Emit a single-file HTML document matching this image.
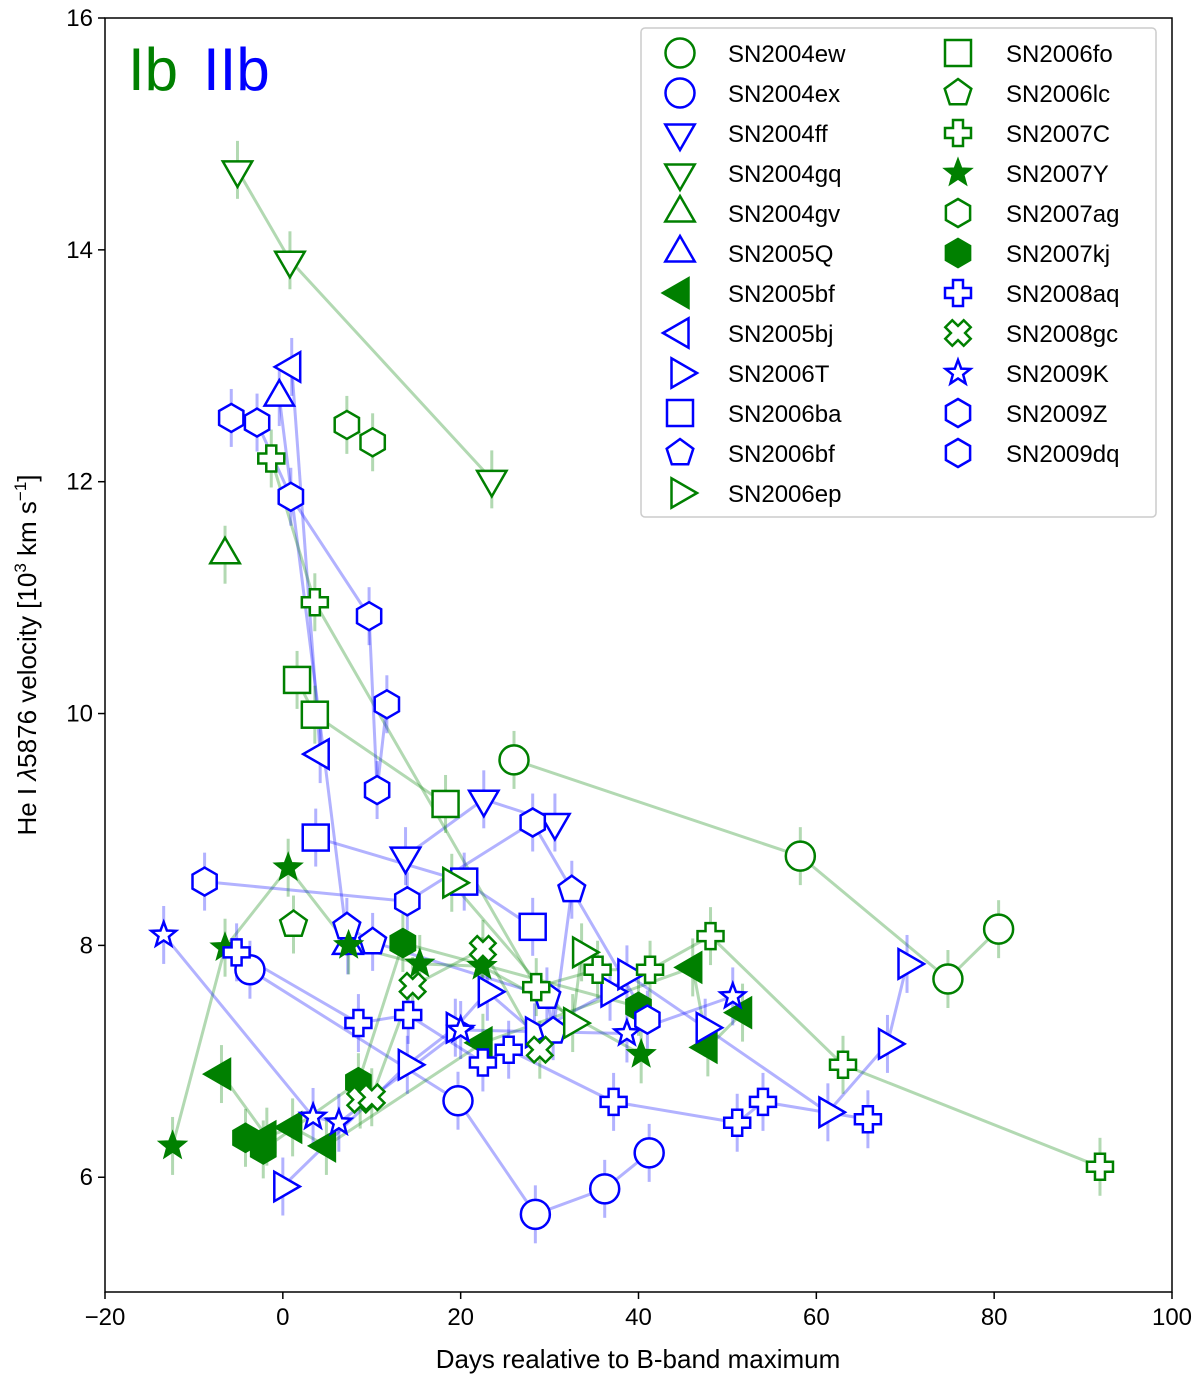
<!DOCTYPE html>
<html><head><meta charset="utf-8"><style>
body{margin:0;background:#fff}
svg{font-family:"Liberation Sans","DejaVu Sans",sans-serif}
</style></head><body>
<svg id="chart" width="1200" height="1379" viewBox="0 0 1200 1379">
<g id="plot"></g>
<g id="axes"></g>
<g id="legend"></g>
<text x="128" y="90" font-size="60" fill="#008000">Ib</text>
<text x="203" y="90" font-size="60" fill="#0000ff">IIb</text>
<text x="638" y="1368" font-size="26" text-anchor="middle">Days realative to B-band maximum</text>
<text transform="translate(36,655) rotate(-90)" font-size="26" text-anchor="middle">He I <tspan font-style="italic">λ</tspan>5876 velocity [10<tspan font-size="17" dy="-10">3</tspan><tspan dy="10"> km s</tspan><tspan font-size="17" dy="-10">−1</tspan><tspan dy="10">]</tspan></text>
</svg>
<script>
const names=["SN2004ew","SN2004ex","SN2004ff","SN2004gq","SN2004gv","SN2005Q","SN2005bf","SN2005bj","SN2006T","SN2006ba","SN2006bf","SN2006ep","SN2006fo","SN2006lc","SN2007C","SN2007Y","SN2007ag","SN2007kj","SN2008aq","SN2008gc","SN2009K","SN2009Z","SN2009dq"];
const types=["Ib","IIb","IIb","Ib","Ib","IIb","Ib","IIb","IIb","IIb","IIb","Ib","Ib","Ib","Ib","Ib","Ib","Ib","IIb","Ib","IIb","IIb","IIb"];
const markers=["circle","circle","tdown","tdown","tup","tup","tleftF","tleft","tright","square","pent","tright","square","pent","plus","starF","hex","hexF","plus","x","star","hex","hex"];
const days=[
[26,58.2,74.8,80.5],
[-3.7,19.7,28.4,36.2,41.2],
[13.8,22.6,30.6],
[-5.1,0.8,23.5],
[-6.5],
[-0.4,7.3],
[-6.9,-1.8,1.1,4.9,22.5,46.1,47.8,51.7],
[1.0,4.2],
[0,14,19.4,23,28.3,36.8,38.7,47.5,61.3,68,70.2],
[3.7,20.4,28.1],
[7.2,10.1,29.7,30.4,32.5],
[19,32.6,33.6],
[1.6,3.6,18.3],
[1.2],
[-1.3,3.6,28.5,35.4,41.3,48.1,63,91.9],
[-12.4,-6.5,0.6,7.4,15.4,22.4,40.3],
[7.2,10.1],
[-4.2,-2.2,8.5,13.5,40],
[-5.2,8.5,14.1,22.5,25.4,37.2,51.1,54,65.8],
[8.7,10,14.6,22.5,28.9],
[-13.4,3.4,6.3,20,38.7,50.6],
[-5.8,-2.9,0.9,9.7,10.6,11.7],
[-8.8,14,28.1,41]];
const vels=[
[9.6,8.77,7.71,8.14],
[7.79,6.66,5.68,5.90,6.21],
[8.77,9.26,9.06],
[14.69,13.91,12.02],
[11.37],
[12.73,8.0],
[6.89,6.35,6.43,6.27,7.16,7.81,7.12,7.42],
[12.99,9.65],
[5.92,6.97,7.29,7.6,7.25,7.6,7.75,7.29,6.56,7.15,7.84],
[8.93,8.55,8.16],
[8.16,8.03,7.56,7.26,8.48],
[8.54,7.33,7.94],
[10.29,9.99,9.22],
[8.18],
[12.2,10.96,7.64,7.79,7.79,8.08,6.97,6.09],
[6.27,7.98,8.67,8.0,7.84,7.82,7.06],
[12.49,12.34],
[6.34,6.24,6.82,8.02,7.47],
[7.94,7.33,7.4,6.99,7.1,6.65,6.47,6.65,6.5],
[6.67,6.69,7.65,7.97,7.1],
[8.09,6.52,6.47,7.27,7.24,7.56],
[12.55,12.51,11.87,10.84,9.34,10.08],
[8.55,8.38,9.06,7.36]];
const xTicks=[-20,0,20,40,60,80,100];
const yTicks=[6,8,10,12,14];
const NS="http://www.w3.org/2000/svg";
const X0=105,X1=1172,Y0=1292,Y1=18,xmin=-20,xmax=100,ymin=5.01,ymax=16;
const sx=v=>X0+(v-xmin)/(xmax-xmin)*(X1-X0);
const sy=v=>Y0-(v-ymin)/(ymax-ymin)*(Y0-Y1);
function mk(tag,attrs,parent){const e=document.createElementNS(NS,tag);for(const k in attrs)e.setAttribute(k,attrs[k]);parent.appendChild(e);return e;}
function poly(cx,cy,r,n,rot){let p=[];for(let i=0;i<n;i++){const a=rot+i*2*Math.PI/n;p.push((cx+r*Math.cos(a)).toFixed(1)+","+(cy+r*Math.sin(a)).toFixed(1));}return p.join(" ");}
function drawMarker(g,m,cx,cy,col){
  const filled=m.endsWith("F");const t=m.replace("F","");
  const st={fill:filled?col:"#fff",stroke:col,"stroke-width":2.5};
  let e;
  if(t==="circle")e=mk("circle",Object.assign({cx,cy,r:14.5},st),g);
  else if(t==="tdown")e=mk("polygon",Object.assign({points:poly(cx,cy,17,3,Math.PI/2)},st),g);
  else if(t==="tup")e=mk("polygon",Object.assign({points:poly(cx,cy,17,3,-Math.PI/2)},st),g);
  else if(t==="tleft")e=mk("polygon",Object.assign({points:poly(cx,cy,17,3,Math.PI)},st),g);
  else if(t==="tright")e=mk("polygon",Object.assign({points:poly(cx,cy,17,3,0)},st),g);
  else if(t==="square")e=mk("rect",Object.assign({x:cx-13,y:cy-13,width:26,height:26},st),g);
  else if(t==="pent")e=mk("polygon",Object.assign({points:poly(cx,cy,14,5,-Math.PI/2)},st),g);
  else if(t==="hex")e=mk("polygon",Object.assign({points:poly(cx,cy,14,6,-Math.PI/2)},st),g);
  else if(t==="plus"){const a=13,b=5;e=mk("polygon",Object.assign({points:`${cx-b},${cy-a} ${cx+b},${cy-a} ${cx+b},${cy-b} ${cx+a},${cy-b} ${cx+a},${cy+b} ${cx+b},${cy+b} ${cx+b},${cy+a} ${cx-b},${cy+a} ${cx-b},${cy+b} ${cx-a},${cy+b} ${cx-a},${cy-b} ${cx-b},${cy-b}`},st),g);}
  else if(t==="x"){const a=13,b=5;const pts=[[-b,-a],[b,-a],[b,-b],[a,-b],[a,b],[b,b],[b,a],[-b,a],[-b,b],[-a,b],[-a,-b],[-b,-b]].map(([x,y])=>{const c=Math.SQRT1_2;return (cx+(x-y)*c).toFixed(1)+","+(cy+(x+y)*c).toFixed(1);}).join(" ");e=mk("polygon",Object.assign({points:pts},st),g);}
  else if(t==="star"){let p=[];for(let i=0;i<10;i++){const r=i%2?5.5:13;const a=-Math.PI/2+i*Math.PI/5;p.push((cx+r*Math.cos(a)).toFixed(1)+","+(cy+r*Math.sin(a)).toFixed(1));}e=mk("polygon",Object.assign({points:p.join(" ")},st),g);}
  return e;
}
const plot=document.getElementById("plot");
const colOf=t=>t==="Ib"?"#008000":"#0000ff";
const lineLayer=mk("g",{},plot),errLayer=mk("g",{},plot),markLayer=mk("g",{},plot);
names.forEach((n,i)=>{
  const col=colOf(types[i]);
  const idx=days[i].map((d,j)=>j).sort((a,b)=>days[i][a]-days[i][b]);
  if(idx.length>1){
    const pl=mk("polyline",{points:idx.map(j=>sx(days[i][j])+","+sy(vels[i][j])).join(" "),fill:"none",stroke:col,"stroke-opacity":0.3,"stroke-width":3},lineLayer);
    
    
  }
  days[i].forEach((d,j)=>{
    const x=sx(d),y=sy(vels[i][j]);
    const eb=mk("line",{x1:x,x2:x,y1:sy(vels[i][j]+0.25),y2:sy(vels[i][j]-0.25),stroke:col,"stroke-opacity":0.3,"stroke-width":3},errLayer);
    
    
    const m=drawMarker(markLayer,markers[i],x,y,col);
    
    
  });
});
const axes=document.getElementById("axes");
const frame=mk("rect",{x:X0,y:Y1,width:X1-X0,height:Y0-Y1,fill:"none",stroke:"#000","stroke-width":1.5},axes);


xTicks.forEach(v=>{
  const x=sx(v);
  mk("line",{x1:x,x2:x,y1:Y0,y2:Y0+7,stroke:"#000","stroke-width":1.5},axes);
  const t=mk("text",{x:x,y:Y0+33,"font-size":24,"text-anchor":"middle"},axes);
  t.textContent=v<0?"−"+(-v):String(v);
  
  
});
yTicks.concat([16]).forEach(v=>{
  const y=sy(v);
  mk("line",{x1:X0-7,x2:X0,y1:y,y2:y,stroke:"#000","stroke-width":1.5},axes);
  const t=mk("text",{x:X0-12,y:y+8,"font-size":24,"text-anchor":"end"},axes);
  t.textContent=String(v);
  
  
});
const lg=document.getElementById("legend");
const box=mk("rect",{x:641,y:28,width:515,height:489,rx:4,fill:"#fff","fill-opacity":0.8,stroke:"#ccc","stroke-width":1.5},lg);


names.forEach((n,i)=>{
  const c=i<12?0:1,r=i<12?i:i-12;
  const mx=c?958:680,my=53+r*40;
  const g=mk("g",{},lg);
  
  
  drawMarker(g,markers[i],mx,my,colOf(types[i]));
  const t=mk("text",{x:mx+48,y:my+9,"font-size":24},g);
  t.textContent=n;
});
</script>
</body></html>
